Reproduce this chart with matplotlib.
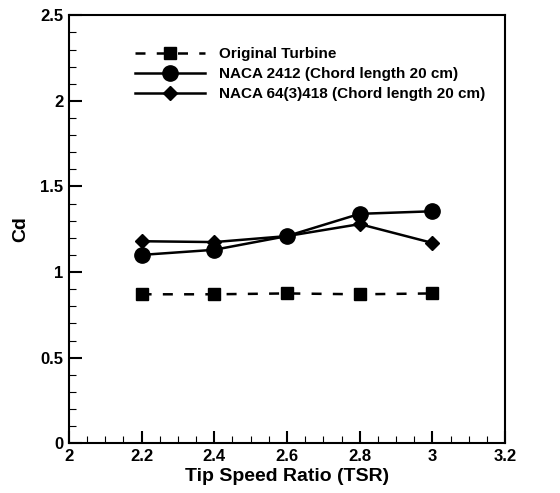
import matplotlib.pyplot as plt
from matplotlib.ticker import MultipleLocator

plt.rcParams['font.family'] = ['Liberation Sans', 'DejaVu Sans']
plt.rcParams['font.weight'] = 'bold'

# Data
tsr = [2.2, 2.4, 2.6, 2.8, 3.0]
cd_original = [0.87, 0.87, 0.875, 0.87, 0.875]
cd_naca2412 = [1.10, 1.13, 1.21, 1.34, 1.355]
cd_naca64 = [1.18, 1.175, 1.21, 1.28, 1.17]

fig = plt.figure(figsize=(5.6, 4.93), dpi=100)
ax = fig.add_axes([0.123, 0.101, 0.779, 0.868])

ax.plot(tsr, cd_original, 'k--s', lw=1.8, ms=8, dashes=(4, 4.5), label='Original Turbine')
ax.plot(tsr, cd_naca2412, 'k-o', lw=1.8, ms=11, label='NACA 2412 (Chord length 20 cm)')
ax.plot(tsr, cd_naca64, 'k-D', lw=1.8, ms=7.5, label='NACA 64(3)418 (Chord length 20 cm)')

ax.set_xlim(2, 3.2)
ax.set_ylim(0, 2.5)
ax.xaxis.set_major_locator(MultipleLocator(0.2))
ax.xaxis.set_minor_locator(MultipleLocator(0.05))
ax.yaxis.set_major_locator(MultipleLocator(0.5))
ax.yaxis.set_minor_locator(MultipleLocator(0.1))
ax.set_xticks([2, 2.2, 2.4, 2.6, 2.8, 3, 3.2])
ax.set_xticklabels(['2', '2.2', '2.4', '2.6', '2.8', '3', '3.2'])
ax.set_yticks([0, 0.5, 1, 1.5, 2, 2.5])
ax.set_yticklabels(['0', '0.5', '1', '1.5', '2', '2.5'])
ax.tick_params(which='major', direction='in', length=9, width=1.5, labelsize=12, pad=4)
ax.tick_params(which='minor', direction='in', length=5, width=0.8)
for sp in ax.spines.values():
    sp.set_linewidth(1.5)

ax.set_xlabel('Tip Speed Ratio (TSR)', fontsize=14, fontweight='bold', labelpad=3)
ax.set_ylabel('Cd', fontsize=14, fontweight='bold', labelpad=8)

ax.legend(loc='upper left', bbox_to_anchor=(0.12, 0.958), frameon=False,
          fontsize=11, handlelength=4.6, handletextpad=0.9, labelspacing=0.4)

fig.savefig('out.png', dpi=100)
